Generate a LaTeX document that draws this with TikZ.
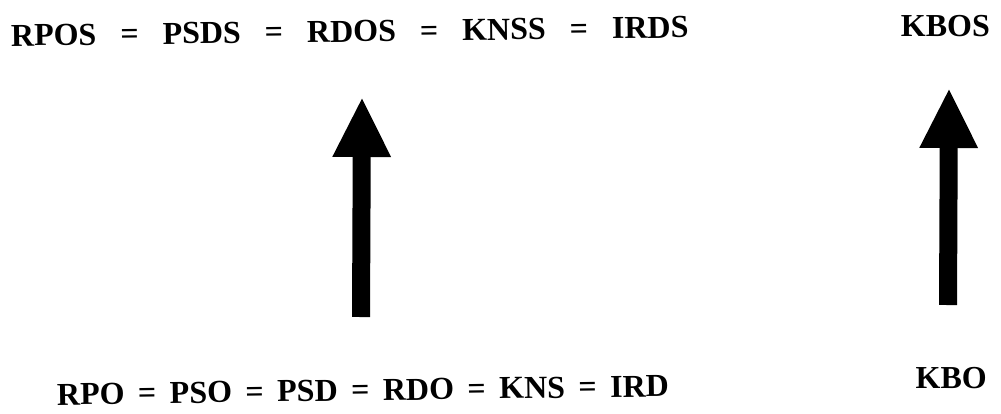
\documentclass[tikz,border=0pt]{standalone}
\usepackage{fontspec}
\setmainfont{Liberation Serif}
\usetikzlibrary{arrows.meta}
\newcommand\topeq{\hspace{24pt}=\hspace{24pt}}
\newcommand\boteq{\hspace{13.5pt}=\hspace{13.5pt}}
\tikzset{
  lbl/.style={inner sep=0pt, font=\bfseries\fontsize{32}{38}\selectfont},
  bigarrow/.style={line width=18pt, -{Triangle[width=54pt,length=60pt]}}
}
\begin{document}
\begin{tikzpicture}[x=1pt,y=-1pt]
\useasboundingbox (0,0) rectangle (1001,413);
\node[lbl, anchor=base west, rotate=0.7] (toprow) at (11,46)
  {RPOS\topeq PSDS\topeq RDOS\topeq KNSS\topeq IRDS};
\node[lbl, anchor=base east] (kbos) at (990,36) {KBOS};
\node[lbl, anchor=base west, rotate=0.8] (botrow) at (57,405)
  {RPO\boteq PSO\boteq PSD\boteq RDO\boteq KNS\boteq IRD};
\node[lbl, anchor=base east] (kbo) at (987,388) {KBO};
\coordinate (la) at (361,317);
\coordinate (lb) at (362,97);
\coordinate (ra) at (948,305);
\coordinate (rb) at (949,88);
\draw[bigarrow] (la) -- (lb);
\draw[bigarrow] (ra) -- (rb);
\end{tikzpicture}
\end{document}
